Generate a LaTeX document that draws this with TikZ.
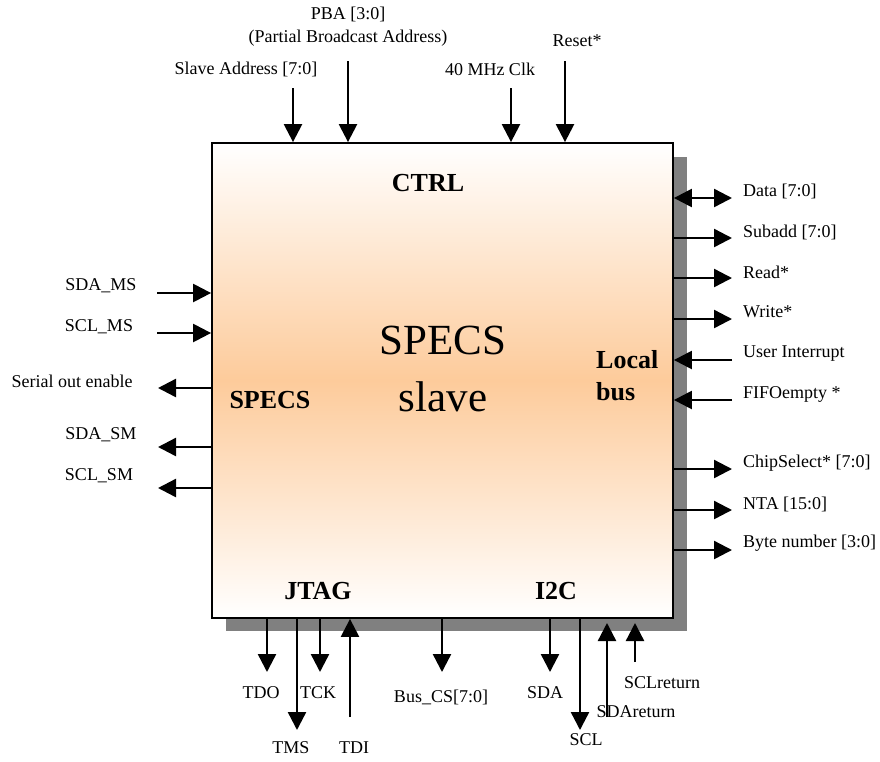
\documentclass[tikz,border=0pt]{standalone}
\usepackage{fontspec}
\setmainfont{Liberation Serif}
\usetikzlibrary{arrows.meta}
\definecolor{peach}{RGB}{253,203,155}
\definecolor{shadowgray}{RGB}{128,128,128}
\begin{document}
\begin{tikzpicture}[x=1pt,y=-1pt,
  sig/.style={line width=2.4pt, -{Triangle[length=18pt,width=18pt]}},
  bisig/.style={line width=2.4pt, {Triangle[length=18pt,width=18pt]}-{Triangle[length=18pt,width=18pt]}},
  lbl/.style={font=\fontsize{18}{23}\selectfont, inner sep=0pt},
  rl/.style={lbl, anchor=west},
  blk/.style={font=\fontsize{26}{32}\selectfont\bfseries, inner sep=0pt},
]
\useasboundingbox (0,0) rectangle (880,761);
% shadow and main block
\fill[shadowgray] (226,157) rectangle (687,631);
\node[draw, line width=1.8pt, minimum width=461pt, minimum height=475pt, inner sep=0pt,
      top color=white, bottom color=white, middle color=peach] (box) at (442.5,380.5) {};

% inner labels
\node[blk] (ctrl) at (428,183) {CTRL};
\node[blk] (specs) at (270,400) {SPECS};
\node[blk, align=left, anchor=west] (local) at (596,376) {Local\\bus};
\node[blk] (jtag) at (318,591) {JTAG};
\node[blk] (iic) at (556,591) {I2C};
\node[font=\fontsize{43}{57}\selectfont, align=center, inner sep=0pt] (title) at (443,369) {SPECS\\slave};

% top inputs
\coordinate (saS) at (293,88);
\coordinate (pbaS) at (348,61);
\coordinate (clkS) at (511,88);
\coordinate (rstS) at (565,61);
\draw[sig] (saS) -- (saS |- box.north);
\draw[sig] (pbaS) -- (pbaS |- box.north);
\draw[sig] (clkS) -- (clkS |- box.north);
\draw[sig] (rstS) -- (rstS |- box.north);
\node[lbl] (saL) at (246,69) {Slave Address [7:0]};
\node[lbl, align=center] (pbaL) at (348,27) {PBA [3:0]\\(Partial Broadcast Address)};
\node[lbl] (clkL) at (490,69) {40 MHz Clk};
\node[lbl] (rstL) at (577,41) {Reset*};

% left side
\coordinate (sdamsS) at (157,293);
\coordinate (sclmsS) at (157,333);
\coordinate (soeE) at (158,388);
\coordinate (sdasmE) at (158,447);
\coordinate (sclsmE) at (158,488);
\draw[sig] (sdamsS) -- (sdamsS -| box.west);
\draw[sig] (sclmsS) -- (sclmsS -| box.west);
\draw[sig] (soeE -| box.west) -- (soeE);
\draw[sig] (sdasmE -| box.west) -- (sdasmE);
\draw[sig] (sclsmE -| box.west) -- (sclsmE);
\node[lbl] (sdamsL) at (101,286) {SDA\_MS};
\node[lbl] (sclmsL) at (99,327) {SCL\_MS};
\node[lbl] (soeL) at (72,381) {Serial out enable};
\node[lbl] (sdasmL) at (101,435) {SDA\_SM};
\node[lbl] (sclsmL) at (99,476) {SCL\_SM};

% right side
\coordinate (dataE) at (732,198);
\coordinate (subE) at (732,238);
\coordinate (rdE) at (732,278);
\coordinate (wrE) at (732,319);
\coordinate (uiS) at (732,360);
\coordinate (fifoS) at (732,400);
\coordinate (csE) at (732,469);
\coordinate (ntaE) at (732,510);
\coordinate (bnE) at (732,550);
\draw[bisig] (dataE -| box.east) -- (dataE);
\draw[sig] (subE -| box.east) -- (subE);
\draw[sig] (rdE -| box.east) -- (rdE);
\draw[sig] (wrE -| box.east) -- (wrE);
\draw[sig] (uiS) -- (uiS -| box.east);
\draw[sig] (fifoS) -- (fifoS -| box.east);
\draw[sig] (csE -| box.east) -- (csE);
\draw[sig] (ntaE -| box.east) -- (ntaE);
\draw[sig] (bnE -| box.east) -- (bnE);
\node[rl] (dataL) at (743,191) {Data [7:0]};
\node[rl] (subL) at (743,232) {Subadd [7:0]};
\node[rl] (rdL) at (743,272) {Read*};
\node[rl] (wrL) at (743,312) {Write*};
\node[rl] (uiL) at (743,354) {User Interrupt};
\node[rl] (fifoL) at (743,394) {FIFOempty *};
\node[rl] (csL) at (743,463) {ChipSelect* [7:0]};
\node[rl] (ntaL) at (743,504) {NTA [15:0]};
\node[rl] (bnL) at (743,543) {Byte number [3:0]};

% bottom
\coordinate (tdoE) at (267,672);
\coordinate (tmsE) at (297,730);
\coordinate (tckE) at (320,672);
\coordinate (tdiS) at (350,717);
\coordinate (buscsE) at (442,672);
\coordinate (sdaE) at (550,672);
\coordinate (sclE) at (580,730);
\coordinate (sdarS) at (607,717);
\coordinate (sdarT) at (607,623);
\coordinate (sclrS) at (635,662);
\coordinate (sclrT) at (635,623);
\draw[sig] (tdoE |- box.south) -- (tdoE);
\draw[sig] (tmsE |- box.south) -- (tmsE);
\draw[sig] (tckE |- box.south) -- (tckE);
\draw[sig] (tdiS) -- (tdiS |- box.south);
\draw[sig] (buscsE |- box.south) -- (buscsE);
\draw[sig] (sdaE |- box.south) -- (sdaE);
\draw[sig] (sclE |- box.south) -- (sclE);
\draw[sig] (sdarS) -- (sdarT);
\draw[sig] (sclrS) -- (sclrT);
\node[lbl] (tdoL) at (261,693) {TDO};
\node[lbl] (tckL) at (318,693) {TCK};
\node[lbl] (tmsL) at (291,748) {TMS};
\node[lbl] (tdiL) at (354,748) {TDI};
\node[lbl] (buscsL) at (441,697) {Bus\_CS[7:0]};
\node[lbl] (sdaL) at (545,693) {SDA};
\node[lbl] (sclL) at (586,740) {SCL};
\node[lbl] (sdarL) at (636,712) {SDAreturn};
\node[lbl] (sclrL) at (662,683) {SCLreturn};
\end{tikzpicture}
\end{document}
